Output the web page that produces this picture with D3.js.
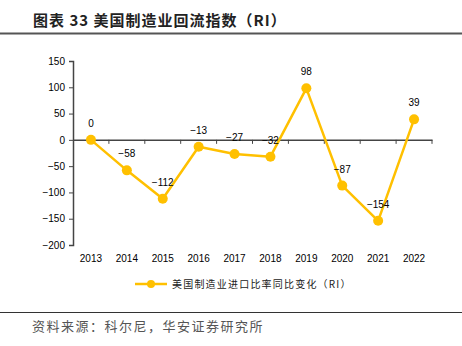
<!DOCTYPE html>
<html>
<head>
<meta charset="utf-8">
<script src="https://cdn.jsdelivr.net/npm/d3@7"></script>
<style>
  body { margin: 0; background: #fff; }
  svg { display: block; }
</style>
</head>
<body>
<svg id="chart"></svg>
<script>
var width = 462;
var height = 346;

var years = ["2013", "2014", "2015", "2016", "2017", "2018", "2019", "2020", "2021", "2022"];
var riValues = [0, -58, -112, -13, -27, -32, 98, -87, -154, 39];
var yTicks = [150, 100, 50, 0, -50, -100, -150, -200];

var titleText = "图表 33 美国制造业回流指数（RI）";
var legendText = "美国制造业进口比率同比变化（RI）";
var sourceText = "资料来源：科尔尼，华安证券研究所";

var lineColor = "#FFC000";
var cjk = "'Noto Sans CJK SC', sans-serif";
var num = "'Liberation Sans', Arial, sans-serif";

var svg = d3.select("#chart").attr("width", width).attr("height", height);

// title + rule
svg.append("text")
  .attr("x", 33)
  .attr("y", 26)
  .attr("font-family", cjk)
  .attr("font-size", 15)
  .attr("font-weight", "bold")
  .attr("letter-spacing", 1)
  .attr("fill", "#222")
  .text(titleText);

svg.append("line")
  .attr("x1", 0).attr("x2", width)
  .attr("y1", 33.5).attr("y2", 33.5)
  .attr("stroke", "#555")
  .attr("stroke-width", 2);

var x = d3.scaleBand().domain(years).range([73, 432]);
var y = d3.scaleLinear().domain([-200, 150]).range([245, 61]);

// y axis
var yAxis = svg.append("g")
  .attr("transform", "translate(73,0)")
  .call(d3.axisLeft(y).tickValues(yTicks).tickSize(4).tickPadding(4)
    .tickFormat(function (d) { return d < 0 ? "\u2212" + Math.abs(d) : d; }));
yAxis.select(".domain").attr("stroke", "#444").attr("stroke-width", 1.5);
yAxis.selectAll(".tick line").attr("stroke", "#444");
yAxis.selectAll("text").attr("font-family", num).attr("font-size", 10).attr("fill", "#000");

// x axis line at zero
var xAxis = svg.append("g")
  .attr("transform", "translate(0," + y(0) + ")")
  .call(d3.axisBottom(x).tickSize(0).tickFormat(""));
xAxis.select(".domain").attr("stroke", "#444").attr("stroke-width", 1.5);

// ticks at category boundaries
svg.append("g")
  .selectAll("line")
  .data(years)
  .enter()
  .append("line")
  .attr("x1", function (d) { return x(d) + x.bandwidth(); })
  .attr("x2", function (d) { return x(d) + x.bandwidth(); })
  .attr("y1", y(0))
  .attr("y2", y(0) + 4)
  .attr("stroke", "#444");

// year labels under the plot
svg.append("g")
  .selectAll("text")
  .data(years)
  .enter()
  .append("text")
  .attr("x", function (d) { return x(d) + x.bandwidth() / 2; })
  .attr("y", 262)
  .attr("text-anchor", "middle")
  .attr("font-family", num)
  .attr("font-size", 10)
  .attr("fill", "#000")
  .text(function (d) { return d; });

var points = years.map(function (d, i) { return { year: d, value: riValues[i] }; });

var line = d3.line()
  .x(function (d) { return x(d.year) + x.bandwidth() / 2; })
  .y(function (d) { return y(d.value); });

svg.append("path")
  .datum(points)
  .attr("d", line)
  .attr("fill", "none")
  .attr("stroke", lineColor)
  .attr("stroke-width", 2.5)
  .attr("stroke-linejoin", "round");

svg.append("g")
  .selectAll("circle")
  .data(points)
  .enter()
  .append("circle")
  .attr("cx", function (d) { return x(d.year) + x.bandwidth() / 2; })
  .attr("cy", function (d) { return y(d.value); })
  .attr("r", 5)
  .attr("fill", lineColor);

svg.append("g")
  .selectAll("text")
  .data(points)
  .enter()
  .append("text")
  .attr("x", function (d) { return x(d.year) + x.bandwidth() / 2; })
  .attr("y", function (d) { return y(d.value) - 13; })
  .attr("text-anchor", "middle")
  .attr("font-family", num)
  .attr("font-size", 10)
  .attr("fill", "#000")
  .text(function (d) { return d.value < 0 ? "\u2212" + Math.abs(d.value) : d.value; });

// legend
var legend = svg.append("g").attr("transform", "translate(135,284)");
legend.append("line")
  .attr("x1", 0).attr("x2", 32)
  .attr("stroke", lineColor)
  .attr("stroke-width", 2.5);
legend.append("circle")
  .attr("cx", 16)
  .attr("r", 4)
  .attr("fill", lineColor);
legend.append("text")
  .attr("x", 37)
  .attr("y", 4)
  .attr("font-family", cjk)
  .attr("font-size", 10)
  .attr("letter-spacing", 1.2)
  .attr("fill", "#222")
  .text(legendText);

// source
svg.append("line")
  .attr("x1", 0).attr("x2", width)
  .attr("y1", 312.5).attr("y2", 312.5)
  .attr("stroke", "#333")
  .attr("stroke-width", 1);

svg.append("text")
  .attr("x", 32)
  .attr("y", 331)
  .attr("font-family", cjk)
  .attr("font-size", 13)
  .attr("letter-spacing", 1.5)
  .attr("fill", "#555")
  .text(sourceText);
</script>
</body>
</html>
